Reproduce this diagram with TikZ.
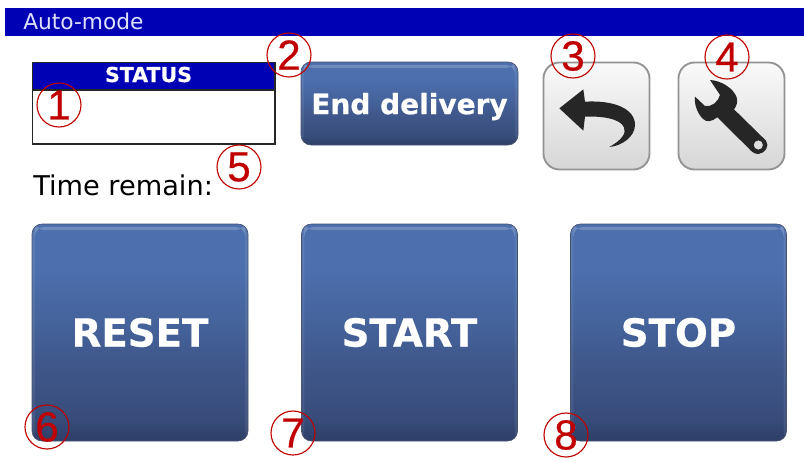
\documentclass[tikz,border=0pt]{standalone}
\usepackage{fontspec}
\setmainfont{DejaVu Sans}
\newfontfamily\numfont[FakeBold=0.6]{Liberation Sans}
\newfontfamily\btnfont[FakeBold=0.5]{DejaVu Sans Bold}
\definecolor{barblue}{HTML}{0000B4}
\definecolor{numred}{HTML}{C00000}
\definecolor{bbot}{HTML}{2E3E66}
\definecolor{bnearbot}{HTML}{374C7A}
\definecolor{blow}{HTML}{3F578A}
\definecolor{bmid}{HTML}{45639C}
\definecolor{bhigh}{HTML}{4D6FAE}
\definecolor{iconblack}{HTML}{262626}
\pgfdeclareverticalshading{btnshade}{100bp}{
  color(0bp)=(bbot); color(25bp)=(bbot); color(30bp)=(bnearbot); color(42.5bp)=(blow);
  color(52.5bp)=(bmid); color(65bp)=(bhigh); color(75bp)=(bhigh); color(100bp)=(bhigh)}
\tikzset{
  bluebtn/.style={rounded corners=7.5pt, inner sep=0pt, text=white, align=center,
    shade, shading=btnshade, draw=bbot!70!gray, line width=.5pt,
    path picture={
      \fill[white,opacity=.2] ([xshift=2pt,yshift=-2.2pt]path picture bounding box.north west) rectangle ([xshift=-2pt,yshift=-4.6pt]path picture bounding box.north east);
      \fill[white,opacity=.07] (path picture bounding box.north west) rectangle ([xshift=2.2pt]path picture bounding box.south west);
      \fill[white,opacity=.07] ([xshift=-2.2pt]path picture bounding box.north east) rectangle (path picture bounding box.south east);
    }},
  bigbtn/.style={bluebtn, minimum width=216*0.75pt, minimum height=217*0.75pt, font=\fontsize{29}{30}\btnfont},
  greybtn/.style={rounded corners=12pt, inner sep=0pt, minimum width=106*0.75pt, minimum height=107*0.75pt,
    draw=gray!85, line width=1.4pt, top color=white!96!gray, bottom color=gray!32},
  numcircle/.style={circle, draw=numred, line width=.85pt, text=numred, inner sep=0pt,
    minimum size=44*0.75pt, font=\fontsize{31.5}{31.5}\numfont},
  icon/.style={fill=iconblack, draw=none},
}
\begin{document}
\begin{tikzpicture}[x=0.75pt,y=-0.75pt]
\useasboundingbox (0,0) rectangle (804,461);
% title bar
\fill[barblue] (5,8) rectangle (804,36);
\node[anchor=base west, inner sep=0pt, text=blue!12!white, font=\fontsize{16.3}{17}\selectfont] (title) at (23,29.5) {Auto-mode};
% status
\fill[barblue] (32,62) rectangle (275,90);
\draw[black!85, line width=.9pt] (32.5,62.5) rectangle (275,144);
\draw[black!85, line width=.9pt] (32.5,90) -- (275,90);
\node[anchor=base, inner sep=0pt, text=white, font=\fontsize{15.4}{16}\btnfont] (status) at (148.5,82) {STATUS};
\node[anchor=base west, inner sep=0pt, text=black, font=\fontsize{20.4}{21}\selectfont] (time) at (33,195) {Time remain:};
% buttons
\node[bluebtn, minimum width=217*0.75pt, minimum height=83*0.75pt, text depth=0pt, font=\fontsize{21}{22}\btnfont] (end) at (409.5,103.5) {End delivery};
\node[greybtn] (back) at (596.5,116) {};
\node[greybtn] (tool) at (731.5,116) {};
\node[bigbtn] (reset) at (140,332.5) {RESET};
\node[bigbtn] (start) at (409.5,332.5) {START};
\node[bigbtn] (stop) at (678.5,332.5) {STOP};
% back arrow icon
\begin{scope}[shift={(530,20)},x=0.25pt,y=-0.25pt]
\fill[icon] (88,265) -- (160,208) -- (165,245)
  .. controls (250,240) and (315,265) .. (315,315)
  .. controls (315,350) and (275,378) .. (238,381)
  .. controls (275,360) and (290,340) .. (282,322)
  .. controls (270,295) and (215,288) .. (165,290)
  -- (160,332) -- cycle;
% wrench icon
\fill[icon,even odd rule] (540,180)
  .. controls (575,182) and (610,205) .. (620,232)
  .. controls (624,245) and (620,258) .. (612,268)
  -- (708,362)
  .. controls (720,378) and (705,400) .. (685,402)
  .. controls (672,402) and (664,394) .. (655,384)
  -- (562,292)
  .. controls (545,305) and (530,308) .. (518,296)
  .. controls (503,280) and (492,255) .. (495,230)
  -- (525,258)
  .. controls (545,262) and (565,245) .. (570,225)
  -- cycle
  (685,375) circle[radius=14];
\end{scope}
% numbers
\node[numcircle] (n1) at (59,105) {1};
\node[numcircle] (n2) at (289,55) {2};
\node[numcircle] (n3) at (573,56) {3};
\node[numcircle] (n4) at (727,57) {4};
\node[numcircle] (n5) at (239,167) {5};
\node[numcircle] (n6) at (47,427) {6};
\node[numcircle] (n7) at (293,433) {7};
\node[numcircle] (n8) at (566,435) {8};
\end{tikzpicture}
\end{document}
